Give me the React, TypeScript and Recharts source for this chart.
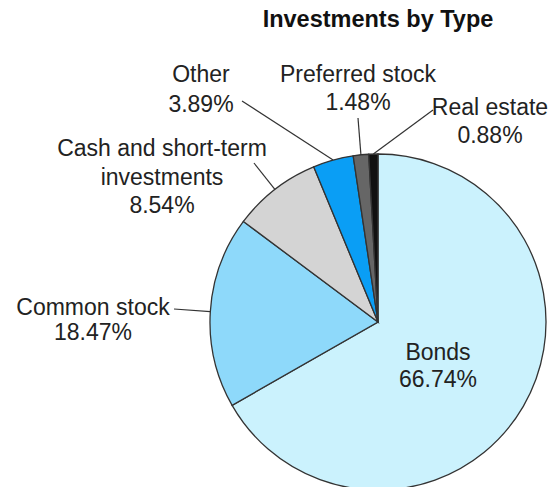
import { PieChart, Pie, Cell } from 'recharts'

const categories = ['Bonds', 'Common stock', 'Cash and short-term investments', 'Other', 'Preferred stock', 'Real estate']
const shares = [66.74, 18.47, 8.54, 3.89, 1.48, 0.88]
const labelLines = [
  ['Bonds', '66.74%'],
  ['Common stock', '18.47%'],
  ['Cash and short-term', 'investments', '8.54%'],
  ['Other', '3.89%'],
  ['Preferred stock', '1.48%'],
  ['Real estate', '0.88%'],
]
const colors = ['#cbf2fd', '#8ed9fa', '#d4d4d4', '#0a9ef5', '#666666', '#111111']

// label placement, relative to pie centre: text x, first baseline, line gap, leader start (null = no leader)
const labelLayout = [
  { x: 60, y: 38, gap: 27, lead: null },
  { x: -285, y: -7, gap: 25, lead: [-204, -13] },
  { x: -216, y: -166, gap: 28.5, lead: [-124, -159] },
  { x: -177, y: -240, gap: 30, lead: [-136, -221] },
  { x: -20, y: -240, gap: 28, lead: [-20, -204] },
  { x: 112, y: -207, gap: 28, lead: [55, -212] },
]

const data = categories.map((name, i) => ({ name, value: shares[i] }))
const RAD = Math.PI / 180

const renderLabel = (props: any) => {
  const { cx, cy, midAngle, outerRadius, index } = props
  const l = labelLayout[index]
  const ex = cx + Math.cos(-midAngle * RAD) * outerRadius
  const ey = cy + Math.sin(-midAngle * RAD) * outerRadius
  return (
    <g>
      {l.lead && (
        <line x1={cx + l.lead[0]} y1={cy + l.lead[1]} x2={ex} y2={ey} stroke="#333" strokeWidth={1.2} />
      )}
      <text
        x={cx + l.x}
        y={cy + l.y}
        textAnchor="middle"
        fill="#222"
        fontSize={23}
        fontFamily="'Liberation Sans', Arial, sans-serif"
      >
        {labelLines[index].map((s, j) => (
          <tspan key={j} x={cx + l.x} y={cy + l.y + j * l.gap}>
            {s}
          </tspan>
        ))}
      </text>
    </g>
  )
}

export default function App() {
  return (
    <div style={{ position: 'absolute', left: 0, top: 0, width: 552, height: 487, background: '#fff' }}>
      <PieChart width={552} height={487} margin={{ top: 0, right: 0, bottom: 0, left: 0 }}>
        <text
          x={378}
          y={27}
          textAnchor="middle"
          fill="#111"
          fontSize={23.5}
          fontWeight="bold"
          fontFamily="'Liberation Sans', Arial, sans-serif"
        >
          Investments by Type
        </text>
        <Pie
          data={data}
          dataKey="value"
          nameKey="name"
          cx={378}
          cy={322}
          outerRadius={168}
          startAngle={90}
          endAngle={-270}
          stroke="#333"
          strokeWidth={1.3}
          label={renderLabel}
          labelLine={false}
          isAnimationActive={false}
        >
          {data.map((d, i) => (
            <Cell key={d.name} fill={colors[i]} />
          ))}
        </Pie>
      </PieChart>
    </div>
  )
}
